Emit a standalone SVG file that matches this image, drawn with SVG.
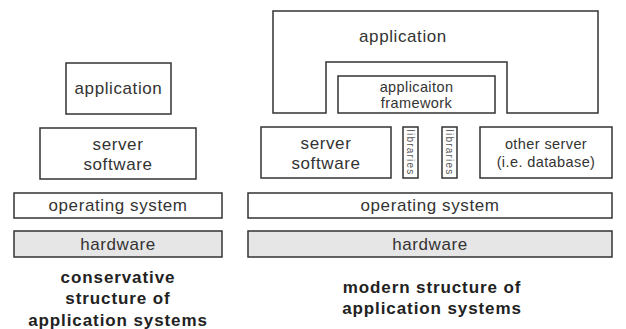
<svg xmlns="http://www.w3.org/2000/svg" width="626" height="329" viewBox="0 0 626 329">
<style>
.b{fill:#fff;stroke:#333;stroke-width:1.5}
.h{fill:#e6e6e6;stroke:#333;stroke-width:1.5}
text{font-family:"Liberation Sans",Arial,sans-serif;font-size:17px;letter-spacing:0.6px;fill:#333;text-anchor:middle}
.s{font-size:14.5px;letter-spacing:0.4px}
.v{font-size:10px;letter-spacing:1.2px;fill:#555}
.c{font-weight:bold;font-size:17px;letter-spacing:0.9px;fill:#222}
</style>
<rect width="626" height="329" fill="#fff"/>
<g id="l-app"><rect class="b" x="66" y="63" width="105" height="51"/><text x="118.5" y="94">application</text></g>
<g id="l-server"><rect class="b" x="40" y="128" width="156" height="51"/><text x="118" y="150">server</text><text x="118" y="170">software</text></g>
<g id="l-os"><rect class="b" x="14" y="193" width="208" height="25"/><text x="118" y="211">operating system</text></g>
<g id="l-hw"><rect class="h" x="14" y="231" width="208" height="26"/><text x="118" y="249.5">hardware</text></g>
<g id="l-caption"><text class="c" x="118" y="283">conservative</text><text class="c" x="118" y="304">structure of</text><text class="c" x="118" y="326">application systems</text></g>

<g id="r-app"><path class="b" d="M273 11H598V113H507V62H326V113H273Z"/><text x="403" y="42">application</text></g>
<g id="r-fw"><rect class="b" x="338" y="76" width="157" height="37"/><text class="s" x="416.5" y="92">applicaiton</text><text class="s" x="416.5" y="108">framework</text></g>
<g id="r-server"><rect class="b" x="261" y="127" width="130" height="51"/><text x="326" y="149">server</text><text x="326" y="169">software</text></g>
<g id="r-lib1"><rect class="b" x="403" y="127" width="15" height="51"/><text class="v" transform="translate(407,152.5) rotate(90)">libraries</text></g>
<g id="r-lib2"><rect class="b" x="442" y="127" width="15" height="51"/><text class="v" transform="translate(446,152.5) rotate(90)">libraries</text></g>
<g id="r-other"><rect class="b" x="480" y="127" width="132" height="51"/><text class="s" x="546" y="149">other server</text><text class="s" x="546" y="167">(i.e. database)</text></g>
<g id="r-os"><rect class="b" x="248" y="193" width="364" height="25"/><text x="430" y="211">operating system</text></g>
<g id="r-hw"><rect class="h" x="248" y="231" width="364" height="26"/><text x="430" y="249.5">hardware</text></g>
<g id="r-caption"><text class="c" x="432" y="293">modern structure of</text><text class="c" x="432" y="314">application systems</text></g>
<g id="connectors"/>
</svg>
